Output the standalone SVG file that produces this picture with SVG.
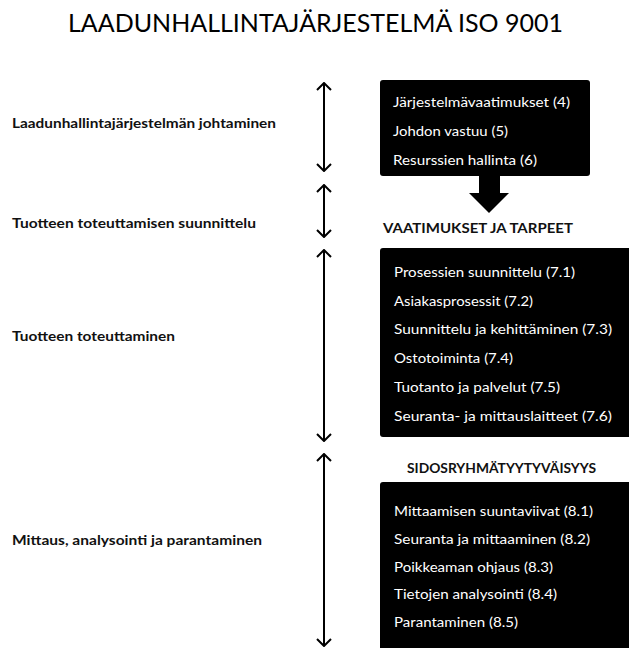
<svg xmlns="http://www.w3.org/2000/svg" width="629" height="648" viewBox="0 0 629 648">
<style>
  text { font-family: Lato, "Open Sans", "Liberation Sans", sans-serif; }
  .title { font-size: 25px; fill: #000; }
  .lbl { font-size: 13px; font-weight: bold; fill: #111; }
  .hd { font-size: 13px; font-weight: bold; fill: #111; }
  .item { font-size: 13.5px; fill: #fff; }
  .box { fill: #000; }
  .conn { stroke: #000; stroke-width: 2; fill: none; }
</style>
<defs>
  <marker id="chev" viewBox="0 0 9 16" refX="8" refY="8" markerWidth="9" markerHeight="16" markerUnits="userSpaceOnUse" orient="auto-start-reverse">
    <path d="M1,1 L8,8 L1,15" fill="none" stroke="#000" stroke-width="2"/>
  </marker>
</defs>
<rect width="629" height="648" fill="#fff"/>
<text class="title" x="68" y="32" textLength="495" lengthAdjust="spacingAndGlyphs">LAADUNHALLINTAJÄRJESTELMÄ ISO 9001</text>

<g id="labels">
  <text class="lbl" x="12" y="128" textLength="264" lengthAdjust="spacingAndGlyphs">Laadunhallintajärjestelmän johtaminen</text>
  <text class="lbl" x="12" y="228" textLength="244" lengthAdjust="spacingAndGlyphs">Tuotteen toteuttamisen suunnittelu</text>
  <text class="lbl" x="12" y="341" textLength="163" lengthAdjust="spacingAndGlyphs">Tuotteen toteuttaminen</text>
  <text class="lbl" x="12" y="545" textLength="250" lengthAdjust="spacingAndGlyphs">Mittaus, analysointi ja parantaminen</text>
</g>

<g id="connectors">
  <line class="conn" x1="324" y1="83" x2="324" y2="171" marker-start="url(#chev)" marker-end="url(#chev)"/>
  <line class="conn" x1="324" y1="185" x2="324" y2="237" marker-start="url(#chev)" marker-end="url(#chev)"/>
  <line class="conn" x1="324" y1="250" x2="324" y2="441" marker-start="url(#chev)" marker-end="url(#chev)"/>
  <line class="conn" x1="324" y1="454" x2="324" y2="646" marker-start="url(#chev)" marker-end="url(#chev)"/>
  <polygon points="479,175 500,175 500,193 509,193 489,213 469,193 479,193" fill="#000"/>
</g>

<g id="box1">
  <rect class="box" x="380" y="80" width="210" height="96" rx="3"/>
  <text class="item" x="393" y="107" textLength="177" lengthAdjust="spacingAndGlyphs">Järjestelmävaatimukset (4)</text>
  <text class="item" x="393" y="136" textLength="115" lengthAdjust="spacingAndGlyphs">Johdon vastuu (5)</text>
  <text class="item" x="393" y="165" textLength="144" lengthAdjust="spacingAndGlyphs">Resurssien hallinta (6)</text>
</g>

<g id="heading1">
  <text class="hd" x="383" y="233" textLength="190" lengthAdjust="spacingAndGlyphs">VAATIMUKSET JA TARPEET</text>
</g>

<g id="box2">
  <rect class="box" x="380" y="248" width="252" height="189" rx="3"/>
  <text class="item" x="394" y="277" textLength="181" lengthAdjust="spacingAndGlyphs">Prosessien suunnittelu (7.1)</text>
  <text class="item" x="394" y="305.5" textLength="139" lengthAdjust="spacingAndGlyphs">Asiakasprosessit (7.2)</text>
  <text class="item" x="394" y="334" textLength="218" lengthAdjust="spacingAndGlyphs">Suunnittelu ja kehittäminen (7.3)</text>
  <text class="item" x="394" y="363" textLength="119" lengthAdjust="spacingAndGlyphs">Ostotoiminta (7.4)</text>
  <text class="item" x="394" y="392" textLength="166" lengthAdjust="spacingAndGlyphs">Tuotanto ja palvelut (7.5)</text>
  <text class="item" x="394" y="421" textLength="218" lengthAdjust="spacingAndGlyphs">Seuranta- ja mittauslaitteet (7.6)</text>
</g>

<g id="heading2">
  <text class="hd" x="407" y="473" textLength="189" lengthAdjust="spacingAndGlyphs">SIDOSRYHMÄTYYTYVÄISYYS</text>
</g>

<g id="box3">
  <rect class="box" x="380" y="482" width="252" height="170" rx="3"/>
  <text class="item" x="394" y="516" textLength="199" lengthAdjust="spacingAndGlyphs">Mittaamisen suuntaviivat (8.1)</text>
  <text class="item" x="394" y="544" textLength="196" lengthAdjust="spacingAndGlyphs">Seuranta ja mittaaminen (8.2)</text>
  <text class="item" x="394" y="572" textLength="159" lengthAdjust="spacingAndGlyphs">Poikkeaman ohjaus (8.3)</text>
  <text class="item" x="394" y="599" textLength="163" lengthAdjust="spacingAndGlyphs">Tietojen analysointi (8.4)</text>
  <text class="item" x="394" y="627" textLength="124" lengthAdjust="spacingAndGlyphs">Parantaminen (8.5)</text>
</g>
</svg>
